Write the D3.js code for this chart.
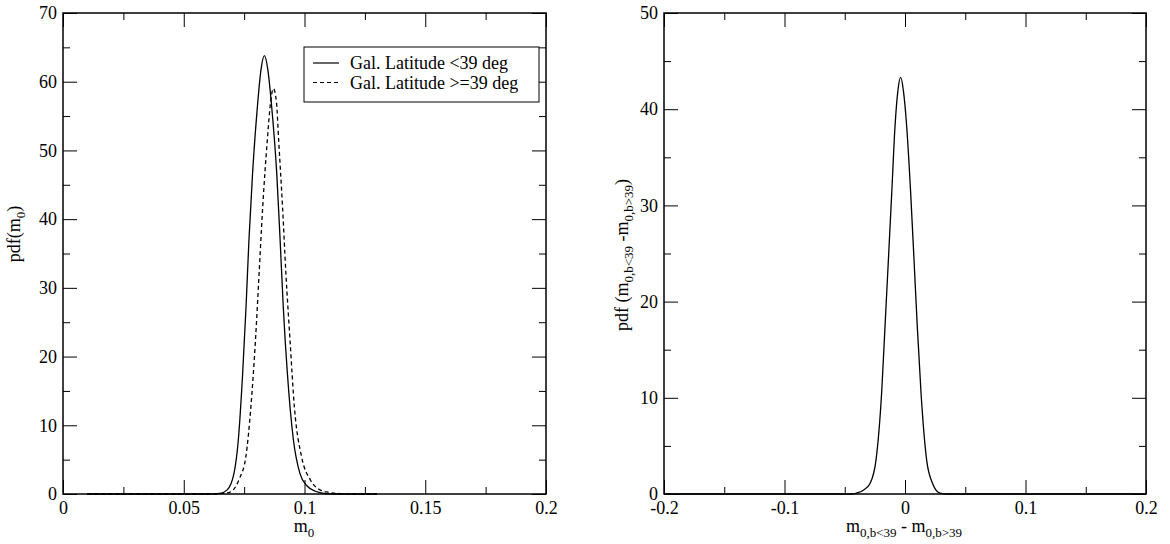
<!DOCTYPE html>
<html><head><meta charset="utf-8">
<script src="https://cdn.jsdelivr.net/npm/d3@7"></script>
<style>
body{margin:0;background:#fff}
svg{display:block}
text{font-family:"Liberation Serif","Times New Roman",serif;fill:#000}
</style>
</head><body>
<svg id="c" width="1170" height="544"></svg>
<script>
// ---- data ----
const lowLatX   = [0.010,0.060,0.0650,0.0680,0.0708,0.0726,0.0744,0.0758,0.0770,0.0785,0.0805,0.0820,0.0834,0.0848,0.0864,0.0885,0.0899,0.0912,0.0929,0.0954,0.0981,0.1010,0.1045,0.1080,0.1120,0.130];
const lowLatPdf = [0,0,0.1,0.6,3.0,7.9,17.6,27.3,37.0,46.7,56.4,61.8,63.8,61.8,56.4,46.7,37.0,27.3,17.6,7.9,3.0,1.2,0.4,0.1,0,0];
const highLatX   = [0.010,0.062,0.0664,0.0690,0.0705,0.0730,0.0757,0.0778,0.0797,0.0812,0.0827,0.0846,0.0858,0.0871,0.0884,0.0893,0.0909,0.0923,0.0940,0.0958,0.0988,0.1025,0.1064,0.110,0.115,0.120,0.130];
const highLatPdf = [0,0,0.1,0.25,0.6,2.2,5.4,12.7,22.4,32.1,41.8,51.5,56.5,59.0,57.0,51.5,41.8,32.1,22.4,12.7,5.4,2.0,0.6,0.25,0.05,0,0];
const diffX   = [-0.20,-0.045,-0.0401,-0.0345,-0.0290,-0.0241,-0.0194,-0.0166,-0.0138,-0.0110,-0.0083,-0.0060,-0.0036,-0.0012,0.0014,0.0047,0.0075,0.0102,0.0133,0.0180,0.0229,0.0290,0.035,0.20];
const diffPdf = [0,0,0.1,0.4,1.1,3.5,10.5,17.4,24.3,31.3,38.2,41.8,43.3,41.8,38.2,31.3,24.3,17.4,10.5,3.5,1.1,0.1,0,0];

const leftXTicks  = [0,0.05,0.1,0.15,0.2];
const leftXMinor  = [0.025,0.075,0.125,0.175];
const leftYTicks  = [0,10,20,30,40,50,60,70];
const leftYMinor  = [5,15,25,35,45,55,65];
const rightXTicks = [-0.2,-0.1,0,0.1,0.2];
const rightXMinor = [-0.15,-0.05,0.05,0.15];
const rightYTicks = [0,10,20,30,40,50];
const rightYMinor = [5,15,25,35,45];
const legendLabels = ["Gal. Latitude <39 deg","Gal. Latitude >=39 deg"];

const svg = d3.select("#c");
const plotTop = 13, plotBottom = 494;
const fmt = d => String(+(+d).toFixed(4));

function panel(x0, x1, xDom, yDom, xt, xm, yt, ym) {
  const x = d3.scaleLinear().domain(xDom).range([x0, x1]);
  const y = d3.scaleLinear().domain(yDom).range([plotBottom, plotTop]);
  const g = svg.append("g");
  const style = sel => {
    sel.select(".domain").remove();
    sel.selectAll("line").attr("stroke","#000").attr("stroke-width",1);
    sel.selectAll("text").attr("font-size","18px").attr("font-family","Liberation Serif, serif").attr("fill","#000");
  };
  g.append("g").attr("transform",`translate(0,${plotBottom})`)
    .call(d3.axisBottom(x).tickValues(xt).tickSize(-14).tickPadding(7).tickFormat(fmt)).call(style);
  g.append("g").attr("transform",`translate(0,${plotBottom})`)
    .call(d3.axisBottom(x).tickValues(xm).tickSize(-7).tickFormat("")).call(style);
  g.append("g").attr("transform",`translate(0,${plotTop})`)
    .call(d3.axisTop(x).tickValues(xt).tickSize(-14).tickFormat("")).call(style);
  g.append("g").attr("transform",`translate(0,${plotTop})`)
    .call(d3.axisTop(x).tickValues(xm).tickSize(-7).tickFormat("")).call(style);
  g.append("g").attr("transform",`translate(${x0},0)`)
    .call(d3.axisLeft(y).tickValues(yt).tickSize(-14).tickPadding(6).tickFormat(fmt)).call(style);
  g.append("g").attr("transform",`translate(${x0},0)`)
    .call(d3.axisLeft(y).tickValues(ym).tickSize(-7).tickFormat("")).call(style);
  g.append("g").attr("transform",`translate(${x1},0)`)
    .call(d3.axisRight(y).tickValues(yt).tickSize(-14).tickFormat("")).call(style);
  g.append("g").attr("transform",`translate(${x1},0)`)
    .call(d3.axisRight(y).tickValues(ym).tickSize(-7).tickFormat("")).call(style);
  g.append("rect").attr("x",x0).attr("y",plotTop).attr("width",x1-x0).attr("height",plotBottom-plotTop)
    .attr("fill","none").attr("stroke","#000").attr("stroke-width",1.5);
  return {x, y, g};
}

function drawLine(p, xs, ys, dash) {
  const line = d3.line().x(d => p.x(d[0])).y(d => p.y(d[1])).curve(d3.curveMonotoneX);
  p.g.append("path").datum(xs.map((v,i)=>[v, ys[i]]))
    .attr("d", line).attr("fill","none").attr("stroke","#000").attr("stroke-width",1.3)
    .attr("stroke-dasharray", dash || null);
}

const L = panel(63, 546, [0,0.2], [0,70], leftXTicks, leftXMinor, leftYTicks, leftYMinor);
const R = panel(664, 1146, [-0.2,0.2], [0,50], rightXTicks, rightXMinor, rightYTicks, rightYMinor);

drawLine(L, lowLatX, lowLatPdf);
drawLine(L, highLatX, highLatPdf, "4,3");
drawLine(R, diffX, diffPdf);

// legend
const lg = svg.append("g");
lg.append("rect").attr("x",304).attr("y",47).attr("width",235).attr("height",55)
  .attr("fill","#fff").attr("stroke","#000").attr("stroke-width",1);
legendLabels.forEach((t,i) => {
  const yy = 63 + i*19.5;
  lg.append("line").attr("x1",313).attr("x2",339).attr("y1",yy).attr("y2",yy)
    .attr("stroke","#000").attr("stroke-width",1.2).attr("stroke-dasharray", i ? "4,3" : null);
  lg.append("text").attr("x",350).attr("y",yy+6).attr("font-size","18px").text(t);
});

// axis titles with subscripts
function label(tx, ty, rot, parts) {
  const t = svg.append("text").attr("transform",`translate(${tx},${ty}) rotate(${rot})`)
    .attr("text-anchor","middle").attr("font-size","18px");
  let shifted = false;
  parts.forEach(([s, sub]) => {
    const ts = t.append("tspan").text(s);
    if (sub && !shifted) { ts.attr("font-size","13px").attr("dy",5); shifted = true; }
    else if (!sub && shifted) { ts.attr("dy",-5); shifted = false; }
  });
}
label(304, 532, 0, [["m"],["0",1]]);
label(904, 532, 0, [["m"],["0,b<39",1],[" - m"],["0,b>39",1]]);
label(20, 234, -90, [["pdf(m"],["0",1],[")"]]);
label(628, 255, -90, [["pdf (m"],["0,b<39",1],[" -m"],["0,b>39",1],[")"]]);
</script>
</body></html>
